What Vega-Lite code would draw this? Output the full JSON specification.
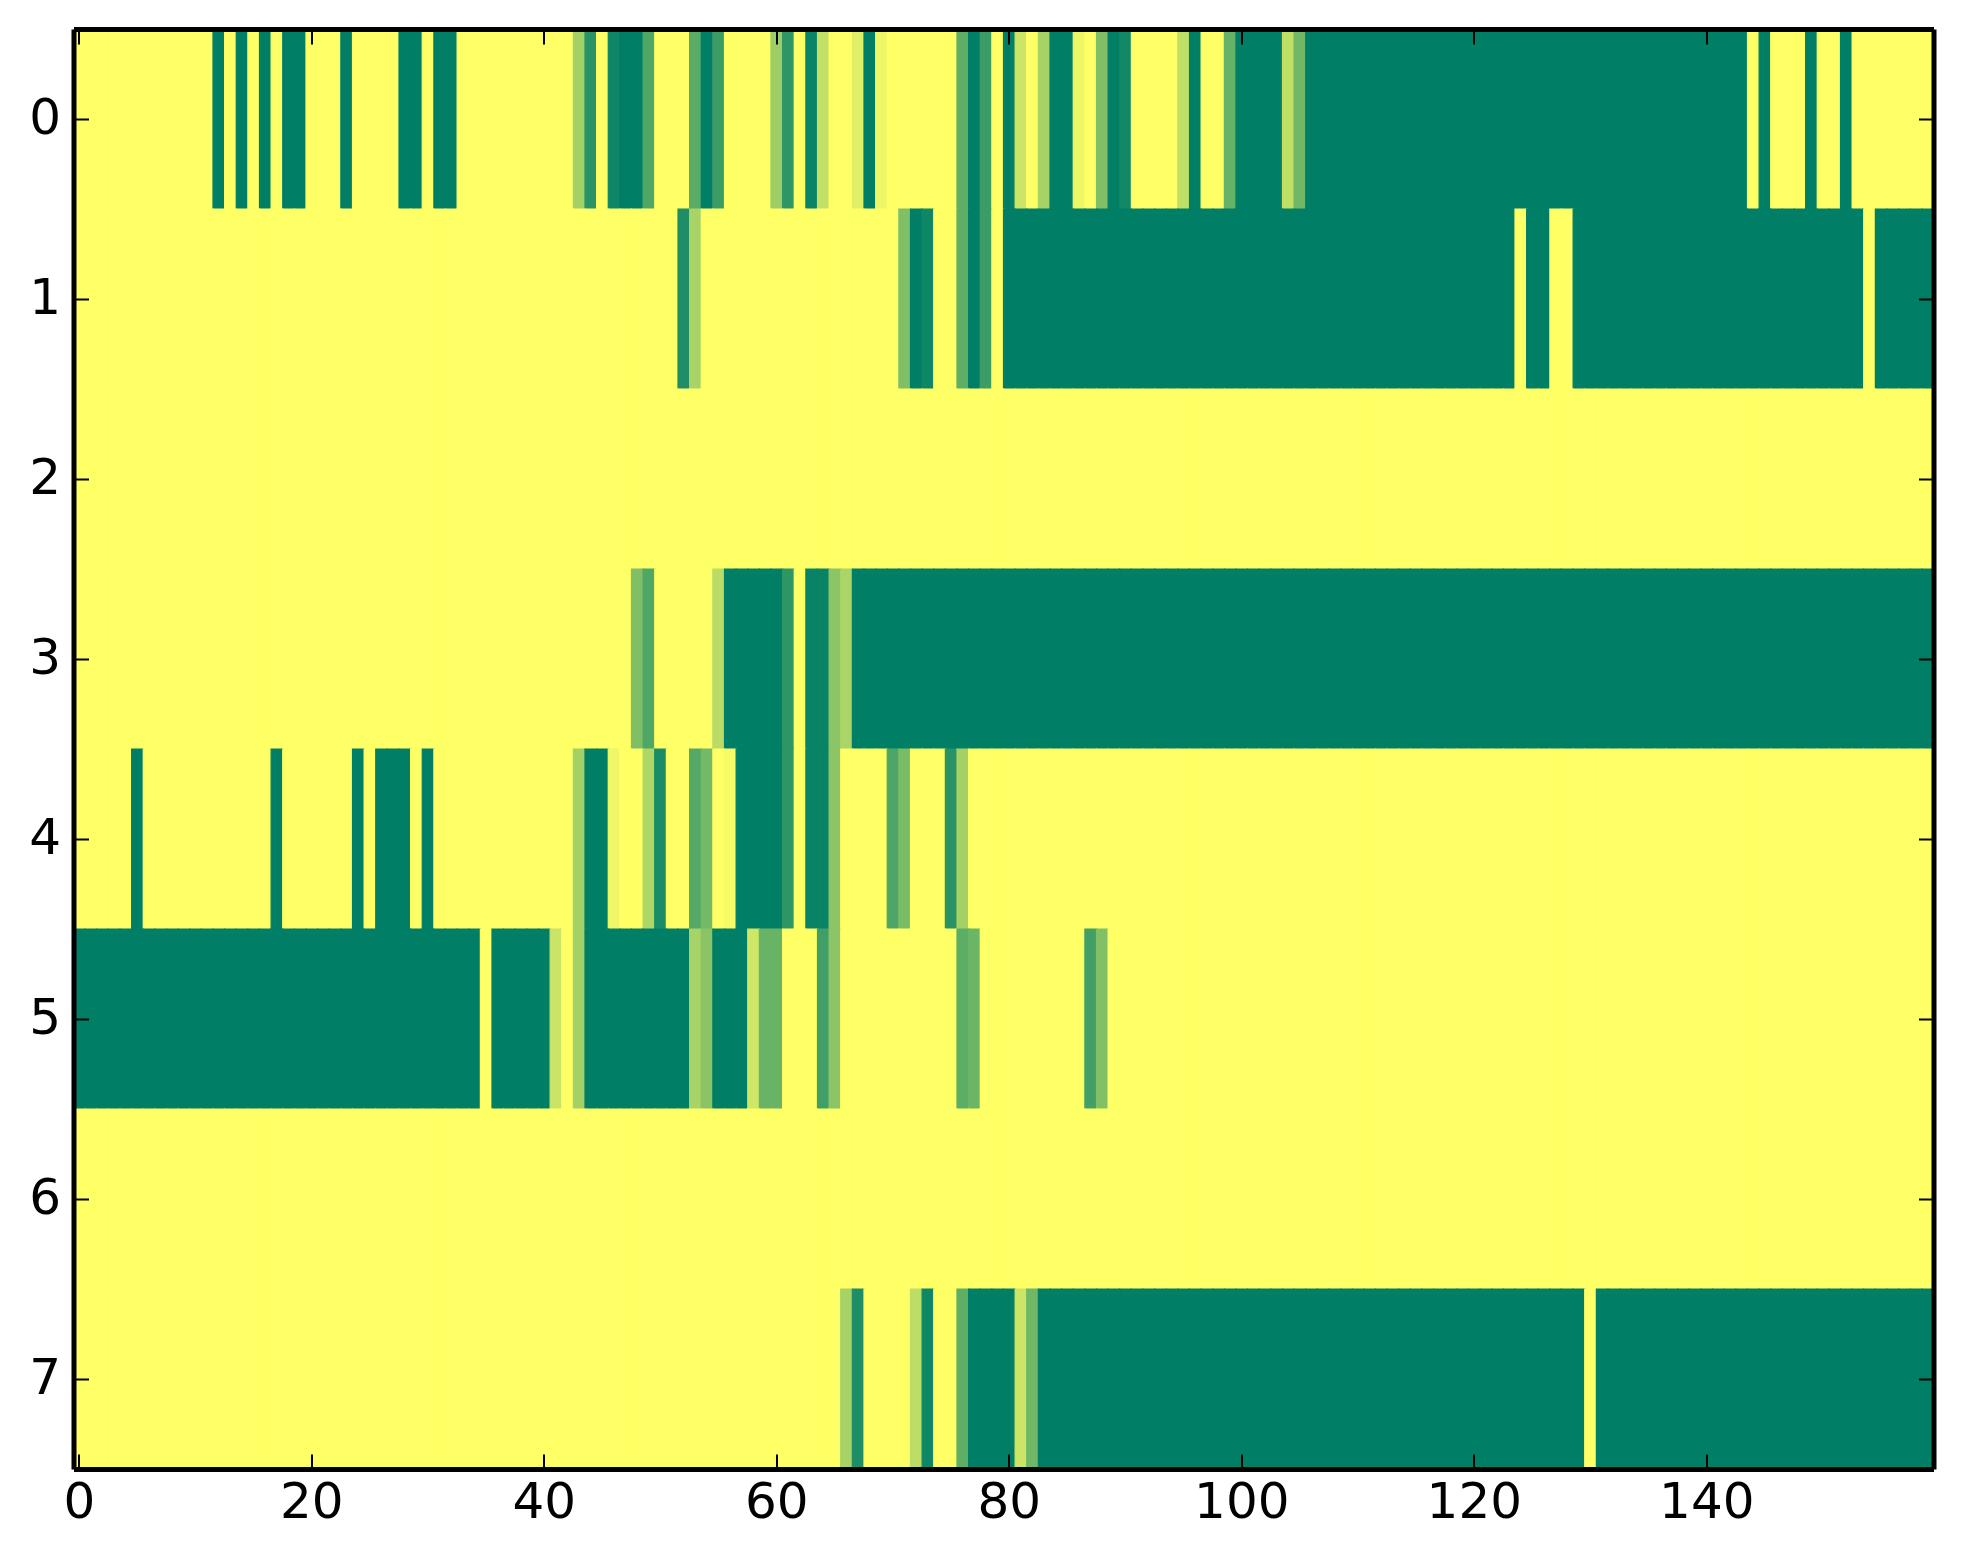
{"$schema":"https://vega.github.io/schema/vega-lite/v6.json","autosize":"none","width":1860,"height":1440,"padding":{"left":73.5,"top":29,"right":29.5,"bottom":95},"background":"white","config":{"view":{"stroke":null},"axis":{"labelFont":"DejaVu Sans","labelFontSize":50,"labelColor":"black","labelAngle":0,"domainColor":"black","tickColor":"black","tickSize":-15,"grid":false,"title":null,"labelOverlap":false}},"data":{"values":[
{"r":0,"c":0,"v":0},{"r":0,"c":1,"v":0},{"r":0,"c":2,"v":0},{"r":0,"c":3,"v":0},{"r":0,"c":4,"v":0},{"r":0,"c":5,"v":0},{"r":0,"c":6,"v":0},{"r":0,"c":7,"v":0},{"r":0,"c":8,"v":0},{"r":0,"c":9,"v":0},{"r":0,"c":10,"v":0},{"r":0,"c":11,"v":0},{"r":0,"c":12,"v":1},{"r":0,"c":13,"v":0},{"r":0,"c":14,"v":1},{"r":0,"c":15,"v":0},{"r":0,"c":16,"v":1},{"r":0,"c":17,"v":0},{"r":0,"c":18,"v":1},{"r":0,"c":19,"v":1},{"r":0,"c":20,"v":0},{"r":0,"c":21,"v":0},{"r":0,"c":22,"v":0},{"r":0,"c":23,"v":1},{"r":0,"c":24,"v":0},{"r":0,"c":25,"v":0},{"r":0,"c":26,"v":0},{"r":0,"c":27,"v":0},{"r":0,"c":28,"v":1},{"r":0,"c":29,"v":1},{"r":0,"c":30,"v":0},{"r":0,"c":31,"v":1},{"r":0,"c":32,"v":1},{"r":0,"c":33,"v":0},{"r":0,"c":34,"v":0},{"r":0,"c":35,"v":0},{"r":0,"c":36,"v":0},{"r":0,"c":37,"v":0},{"r":0,"c":38,"v":0},{"r":0,"c":39,"v":0},
{"r":0,"c":40,"v":0},{"r":0,"c":41,"v":0},{"r":0,"c":42,"v":0},{"r":0,"c":43,"v":0.36},{"r":0,"c":44,"v":0.84},{"r":0,"c":45,"v":0},{"r":0,"c":46,"v":0.95},{"r":0,"c":47,"v":1},{"r":0,"c":48,"v":1},{"r":0,"c":49,"v":0.69},{"r":0,"c":50,"v":0},{"r":0,"c":51,"v":0},{"r":0,"c":52,"v":0},{"r":0,"c":53,"v":0.65},{"r":0,"c":54,"v":1},{"r":0,"c":55,"v":0.77},{"r":0,"c":56,"v":0},{"r":0,"c":57,"v":0},{"r":0,"c":58,"v":0},{"r":0,"c":59,"v":0},{"r":0,"c":60,"v":0.39},{"r":0,"c":61,"v":0.82},{"r":0,"c":62,"v":0},{"r":0,"c":63,"v":0.96},{"r":0,"c":64,"v":0.24},{"r":0,"c":65,"v":0},{"r":0,"c":66,"v":0},{"r":0,"c":67,"v":0.12},{"r":0,"c":68,"v":1},{"r":0,"c":69,"v":0.07},{"r":0,"c":70,"v":0},{"r":0,"c":71,"v":0},{"r":0,"c":72,"v":0},{"r":0,"c":73,"v":0},{"r":0,"c":74,"v":0},{"r":0,"c":75,"v":0},{"r":0,"c":76,"v":0.63},{"r":0,"c":77,"v":1},{"r":0,"c":78,"v":0.77},{"r":0,"c":79,"v":0},
{"r":0,"c":80,"v":1},{"r":0,"c":81,"v":0.2},{"r":0,"c":82,"v":0},{"r":0,"c":83,"v":0.35},{"r":0,"c":84,"v":1},{"r":0,"c":85,"v":1},{"r":0,"c":86,"v":0.07},{"r":0,"c":87,"v":0},{"r":0,"c":88,"v":0.5},{"r":0,"c":89,"v":1},{"r":0,"c":90,"v":0.93},{"r":0,"c":91,"v":0},{"r":0,"c":92,"v":0},{"r":0,"c":93,"v":0},{"r":0,"c":94,"v":0},{"r":0,"c":95,"v":0.25},{"r":0,"c":96,"v":1},{"r":0,"c":97,"v":0},{"r":0,"c":98,"v":0},{"r":0,"c":99,"v":0.6},{"r":0,"c":100,"v":1},{"r":0,"c":101,"v":1},{"r":0,"c":102,"v":1},{"r":0,"c":103,"v":1},{"r":0,"c":104,"v":0.25},{"r":0,"c":105,"v":0.56},{"r":0,"c":106,"v":1},{"r":0,"c":107,"v":1},{"r":0,"c":108,"v":1},{"r":0,"c":109,"v":1},{"r":0,"c":110,"v":1},{"r":0,"c":111,"v":1},{"r":0,"c":112,"v":1},{"r":0,"c":113,"v":1},{"r":0,"c":114,"v":1},{"r":0,"c":115,"v":1},{"r":0,"c":116,"v":1},{"r":0,"c":117,"v":1},{"r":0,"c":118,"v":1},{"r":0,"c":119,"v":1},
{"r":0,"c":120,"v":1},{"r":0,"c":121,"v":1},{"r":0,"c":122,"v":1},{"r":0,"c":123,"v":1},{"r":0,"c":124,"v":1},{"r":0,"c":125,"v":1},{"r":0,"c":126,"v":1},{"r":0,"c":127,"v":1},{"r":0,"c":128,"v":1},{"r":0,"c":129,"v":1},{"r":0,"c":130,"v":1},{"r":0,"c":131,"v":1},{"r":0,"c":132,"v":1},{"r":0,"c":133,"v":1},{"r":0,"c":134,"v":1},{"r":0,"c":135,"v":1},{"r":0,"c":136,"v":1},{"r":0,"c":137,"v":1},{"r":0,"c":138,"v":1},{"r":0,"c":139,"v":1},{"r":0,"c":140,"v":1},{"r":0,"c":141,"v":1},{"r":0,"c":142,"v":1},{"r":0,"c":143,"v":1},{"r":0,"c":144,"v":0},{"r":0,"c":145,"v":1},{"r":0,"c":146,"v":0},{"r":0,"c":147,"v":0},{"r":0,"c":148,"v":0},{"r":0,"c":149,"v":1},{"r":0,"c":150,"v":0},{"r":0,"c":151,"v":0},{"r":0,"c":152,"v":1},{"r":0,"c":153,"v":0},{"r":0,"c":154,"v":0},{"r":0,"c":155,"v":0},{"r":0,"c":156,"v":0},{"r":0,"c":157,"v":0},{"r":0,"c":158,"v":0},{"r":0,"c":159,"v":0},
{"r":1,"c":0,"v":0},{"r":1,"c":1,"v":0},{"r":1,"c":2,"v":0},{"r":1,"c":3,"v":0},{"r":1,"c":4,"v":0},{"r":1,"c":5,"v":0},{"r":1,"c":6,"v":0},{"r":1,"c":7,"v":0},{"r":1,"c":8,"v":0},{"r":1,"c":9,"v":0},{"r":1,"c":10,"v":0},{"r":1,"c":11,"v":0},{"r":1,"c":12,"v":0},{"r":1,"c":13,"v":0},{"r":1,"c":14,"v":0},{"r":1,"c":15,"v":0},{"r":1,"c":16,"v":0},{"r":1,"c":17,"v":0},{"r":1,"c":18,"v":0},{"r":1,"c":19,"v":0},{"r":1,"c":20,"v":0},{"r":1,"c":21,"v":0},{"r":1,"c":22,"v":0},{"r":1,"c":23,"v":0},{"r":1,"c":24,"v":0},{"r":1,"c":25,"v":0},{"r":1,"c":26,"v":0},{"r":1,"c":27,"v":0},{"r":1,"c":28,"v":0},{"r":1,"c":29,"v":0},{"r":1,"c":30,"v":0},{"r":1,"c":31,"v":0},{"r":1,"c":32,"v":0},{"r":1,"c":33,"v":0},{"r":1,"c":34,"v":0},{"r":1,"c":35,"v":0},{"r":1,"c":36,"v":0},{"r":1,"c":37,"v":0},{"r":1,"c":38,"v":0},{"r":1,"c":39,"v":0},
{"r":1,"c":40,"v":0},{"r":1,"c":41,"v":0},{"r":1,"c":42,"v":0},{"r":1,"c":43,"v":0},{"r":1,"c":44,"v":0},{"r":1,"c":45,"v":0},{"r":1,"c":46,"v":0},{"r":1,"c":47,"v":0},{"r":1,"c":48,"v":0},{"r":1,"c":49,"v":0},{"r":1,"c":50,"v":0},{"r":1,"c":51,"v":0},{"r":1,"c":52,"v":0.88},{"r":1,"c":53,"v":0.34},{"r":1,"c":54,"v":0},{"r":1,"c":55,"v":0},{"r":1,"c":56,"v":0},{"r":1,"c":57,"v":0},{"r":1,"c":58,"v":0},{"r":1,"c":59,"v":0},{"r":1,"c":60,"v":0},{"r":1,"c":61,"v":0},{"r":1,"c":62,"v":0},{"r":1,"c":63,"v":0},{"r":1,"c":64,"v":0},{"r":1,"c":65,"v":0},{"r":1,"c":66,"v":0},{"r":1,"c":67,"v":0},{"r":1,"c":68,"v":0},{"r":1,"c":69,"v":0},{"r":1,"c":70,"v":0},{"r":1,"c":71,"v":0.5},{"r":1,"c":72,"v":1},{"r":1,"c":73,"v":0.94},{"r":1,"c":74,"v":0},{"r":1,"c":75,"v":0},{"r":1,"c":76,"v":0.63},{"r":1,"c":77,"v":1},{"r":1,"c":78,"v":0.77},{"r":1,"c":79,"v":0},
{"r":1,"c":80,"v":1},{"r":1,"c":81,"v":1},{"r":1,"c":82,"v":1},{"r":1,"c":83,"v":1},{"r":1,"c":84,"v":1},{"r":1,"c":85,"v":1},{"r":1,"c":86,"v":1},{"r":1,"c":87,"v":1},{"r":1,"c":88,"v":1},{"r":1,"c":89,"v":1},{"r":1,"c":90,"v":1},{"r":1,"c":91,"v":1},{"r":1,"c":92,"v":1},{"r":1,"c":93,"v":1},{"r":1,"c":94,"v":1},{"r":1,"c":95,"v":1},{"r":1,"c":96,"v":1},{"r":1,"c":97,"v":1},{"r":1,"c":98,"v":1},{"r":1,"c":99,"v":1},{"r":1,"c":100,"v":1},{"r":1,"c":101,"v":1},{"r":1,"c":102,"v":1},{"r":1,"c":103,"v":1},{"r":1,"c":104,"v":1},{"r":1,"c":105,"v":1},{"r":1,"c":106,"v":1},{"r":1,"c":107,"v":1},{"r":1,"c":108,"v":1},{"r":1,"c":109,"v":1},{"r":1,"c":110,"v":1},{"r":1,"c":111,"v":1},{"r":1,"c":112,"v":1},{"r":1,"c":113,"v":1},{"r":1,"c":114,"v":1},{"r":1,"c":115,"v":1},{"r":1,"c":116,"v":1},{"r":1,"c":117,"v":1},{"r":1,"c":118,"v":1},{"r":1,"c":119,"v":1},
{"r":1,"c":120,"v":1},{"r":1,"c":121,"v":1},{"r":1,"c":122,"v":1},{"r":1,"c":123,"v":1},{"r":1,"c":124,"v":0},{"r":1,"c":125,"v":1},{"r":1,"c":126,"v":1},{"r":1,"c":127,"v":0},{"r":1,"c":128,"v":0},{"r":1,"c":129,"v":1},{"r":1,"c":130,"v":1},{"r":1,"c":131,"v":1},{"r":1,"c":132,"v":1},{"r":1,"c":133,"v":1},{"r":1,"c":134,"v":1},{"r":1,"c":135,"v":1},{"r":1,"c":136,"v":1},{"r":1,"c":137,"v":1},{"r":1,"c":138,"v":1},{"r":1,"c":139,"v":1},{"r":1,"c":140,"v":1},{"r":1,"c":141,"v":1},{"r":1,"c":142,"v":1},{"r":1,"c":143,"v":1},{"r":1,"c":144,"v":1},{"r":1,"c":145,"v":1},{"r":1,"c":146,"v":1},{"r":1,"c":147,"v":1},{"r":1,"c":148,"v":1},{"r":1,"c":149,"v":1},{"r":1,"c":150,"v":1},{"r":1,"c":151,"v":1},{"r":1,"c":152,"v":1},{"r":1,"c":153,"v":1},{"r":1,"c":154,"v":0},{"r":1,"c":155,"v":1},{"r":1,"c":156,"v":1},{"r":1,"c":157,"v":1},{"r":1,"c":158,"v":1},{"r":1,"c":159,"v":1},
{"r":2,"c":0,"v":0},{"r":2,"c":1,"v":0},{"r":2,"c":2,"v":0},{"r":2,"c":3,"v":0},{"r":2,"c":4,"v":0},{"r":2,"c":5,"v":0},{"r":2,"c":6,"v":0},{"r":2,"c":7,"v":0},{"r":2,"c":8,"v":0},{"r":2,"c":9,"v":0},{"r":2,"c":10,"v":0},{"r":2,"c":11,"v":0},{"r":2,"c":12,"v":0},{"r":2,"c":13,"v":0},{"r":2,"c":14,"v":0},{"r":2,"c":15,"v":0},{"r":2,"c":16,"v":0},{"r":2,"c":17,"v":0},{"r":2,"c":18,"v":0},{"r":2,"c":19,"v":0},{"r":2,"c":20,"v":0},{"r":2,"c":21,"v":0},{"r":2,"c":22,"v":0},{"r":2,"c":23,"v":0},{"r":2,"c":24,"v":0},{"r":2,"c":25,"v":0},{"r":2,"c":26,"v":0},{"r":2,"c":27,"v":0},{"r":2,"c":28,"v":0},{"r":2,"c":29,"v":0},{"r":2,"c":30,"v":0},{"r":2,"c":31,"v":0},{"r":2,"c":32,"v":0},{"r":2,"c":33,"v":0},{"r":2,"c":34,"v":0},{"r":2,"c":35,"v":0},{"r":2,"c":36,"v":0},{"r":2,"c":37,"v":0},{"r":2,"c":38,"v":0},{"r":2,"c":39,"v":0},
{"r":2,"c":40,"v":0},{"r":2,"c":41,"v":0},{"r":2,"c":42,"v":0},{"r":2,"c":43,"v":0},{"r":2,"c":44,"v":0},{"r":2,"c":45,"v":0},{"r":2,"c":46,"v":0},{"r":2,"c":47,"v":0},{"r":2,"c":48,"v":0},{"r":2,"c":49,"v":0},{"r":2,"c":50,"v":0},{"r":2,"c":51,"v":0},{"r":2,"c":52,"v":0},{"r":2,"c":53,"v":0},{"r":2,"c":54,"v":0},{"r":2,"c":55,"v":0},{"r":2,"c":56,"v":0},{"r":2,"c":57,"v":0},{"r":2,"c":58,"v":0},{"r":2,"c":59,"v":0},{"r":2,"c":60,"v":0},{"r":2,"c":61,"v":0},{"r":2,"c":62,"v":0},{"r":2,"c":63,"v":0},{"r":2,"c":64,"v":0},{"r":2,"c":65,"v":0},{"r":2,"c":66,"v":0},{"r":2,"c":67,"v":0},{"r":2,"c":68,"v":0},{"r":2,"c":69,"v":0},{"r":2,"c":70,"v":0},{"r":2,"c":71,"v":0},{"r":2,"c":72,"v":0},{"r":2,"c":73,"v":0},{"r":2,"c":74,"v":0},{"r":2,"c":75,"v":0},{"r":2,"c":76,"v":0},{"r":2,"c":77,"v":0},{"r":2,"c":78,"v":0},{"r":2,"c":79,"v":0},
{"r":2,"c":80,"v":0},{"r":2,"c":81,"v":0},{"r":2,"c":82,"v":0},{"r":2,"c":83,"v":0},{"r":2,"c":84,"v":0},{"r":2,"c":85,"v":0},{"r":2,"c":86,"v":0},{"r":2,"c":87,"v":0},{"r":2,"c":88,"v":0},{"r":2,"c":89,"v":0},{"r":2,"c":90,"v":0},{"r":2,"c":91,"v":0},{"r":2,"c":92,"v":0},{"r":2,"c":93,"v":0},{"r":2,"c":94,"v":0},{"r":2,"c":95,"v":0},{"r":2,"c":96,"v":0},{"r":2,"c":97,"v":0},{"r":2,"c":98,"v":0},{"r":2,"c":99,"v":0},{"r":2,"c":100,"v":0},{"r":2,"c":101,"v":0},{"r":2,"c":102,"v":0},{"r":2,"c":103,"v":0},{"r":2,"c":104,"v":0},{"r":2,"c":105,"v":0},{"r":2,"c":106,"v":0},{"r":2,"c":107,"v":0},{"r":2,"c":108,"v":0},{"r":2,"c":109,"v":0},{"r":2,"c":110,"v":0},{"r":2,"c":111,"v":0},{"r":2,"c":112,"v":0},{"r":2,"c":113,"v":0},{"r":2,"c":114,"v":0},{"r":2,"c":115,"v":0},{"r":2,"c":116,"v":0},{"r":2,"c":117,"v":0},{"r":2,"c":118,"v":0},{"r":2,"c":119,"v":0},
{"r":2,"c":120,"v":0},{"r":2,"c":121,"v":0},{"r":2,"c":122,"v":0},{"r":2,"c":123,"v":0},{"r":2,"c":124,"v":0},{"r":2,"c":125,"v":0},{"r":2,"c":126,"v":0},{"r":2,"c":127,"v":0},{"r":2,"c":128,"v":0},{"r":2,"c":129,"v":0},{"r":2,"c":130,"v":0},{"r":2,"c":131,"v":0},{"r":2,"c":132,"v":0},{"r":2,"c":133,"v":0},{"r":2,"c":134,"v":0},{"r":2,"c":135,"v":0},{"r":2,"c":136,"v":0},{"r":2,"c":137,"v":0},{"r":2,"c":138,"v":0},{"r":2,"c":139,"v":0},{"r":2,"c":140,"v":0},{"r":2,"c":141,"v":0},{"r":2,"c":142,"v":0},{"r":2,"c":143,"v":0},{"r":2,"c":144,"v":0},{"r":2,"c":145,"v":0},{"r":2,"c":146,"v":0},{"r":2,"c":147,"v":0},{"r":2,"c":148,"v":0},{"r":2,"c":149,"v":0},{"r":2,"c":150,"v":0},{"r":2,"c":151,"v":0},{"r":2,"c":152,"v":0},{"r":2,"c":153,"v":0},{"r":2,"c":154,"v":0},{"r":2,"c":155,"v":0},{"r":2,"c":156,"v":0},{"r":2,"c":157,"v":0},{"r":2,"c":158,"v":0},{"r":2,"c":159,"v":0},
{"r":3,"c":0,"v":0},{"r":3,"c":1,"v":0},{"r":3,"c":2,"v":0},{"r":3,"c":3,"v":0},{"r":3,"c":4,"v":0},{"r":3,"c":5,"v":0},{"r":3,"c":6,"v":0},{"r":3,"c":7,"v":0},{"r":3,"c":8,"v":0},{"r":3,"c":9,"v":0},{"r":3,"c":10,"v":0},{"r":3,"c":11,"v":0},{"r":3,"c":12,"v":0},{"r":3,"c":13,"v":0},{"r":3,"c":14,"v":0},{"r":3,"c":15,"v":0},{"r":3,"c":16,"v":0},{"r":3,"c":17,"v":0},{"r":3,"c":18,"v":0},{"r":3,"c":19,"v":0},{"r":3,"c":20,"v":0},{"r":3,"c":21,"v":0},{"r":3,"c":22,"v":0},{"r":3,"c":23,"v":0},{"r":3,"c":24,"v":0},{"r":3,"c":25,"v":0},{"r":3,"c":26,"v":0},{"r":3,"c":27,"v":0},{"r":3,"c":28,"v":0},{"r":3,"c":29,"v":0},{"r":3,"c":30,"v":0},{"r":3,"c":31,"v":0},{"r":3,"c":32,"v":0},{"r":3,"c":33,"v":0},{"r":3,"c":34,"v":0},{"r":3,"c":35,"v":0},{"r":3,"c":36,"v":0},{"r":3,"c":37,"v":0},{"r":3,"c":38,"v":0},{"r":3,"c":39,"v":0},
{"r":3,"c":40,"v":0},{"r":3,"c":41,"v":0},{"r":3,"c":42,"v":0},{"r":3,"c":43,"v":0},{"r":3,"c":44,"v":0},{"r":3,"c":45,"v":0},{"r":3,"c":46,"v":0},{"r":3,"c":47,"v":0},{"r":3,"c":48,"v":0.5},{"r":3,"c":49,"v":0.69},{"r":3,"c":50,"v":0},{"r":3,"c":51,"v":0},{"r":3,"c":52,"v":0},{"r":3,"c":53,"v":0},{"r":3,"c":54,"v":0},{"r":3,"c":55,"v":0.27},{"r":3,"c":56,"v":1},{"r":3,"c":57,"v":1},{"r":3,"c":58,"v":1},{"r":3,"c":59,"v":1},{"r":3,"c":60,"v":1},{"r":3,"c":61,"v":0.82},{"r":3,"c":62,"v":0},{"r":3,"c":63,"v":0.97},{"r":3,"c":64,"v":0.97},{"r":3,"c":65,"v":0.45},{"r":3,"c":66,"v":0.33},{"r":3,"c":67,"v":1},{"r":3,"c":68,"v":1},{"r":3,"c":69,"v":1},{"r":3,"c":70,"v":1},{"r":3,"c":71,"v":1},{"r":3,"c":72,"v":1},{"r":3,"c":73,"v":1},{"r":3,"c":74,"v":1},{"r":3,"c":75,"v":1},{"r":3,"c":76,"v":1},{"r":3,"c":77,"v":1},{"r":3,"c":78,"v":1},{"r":3,"c":79,"v":1},
{"r":3,"c":80,"v":1},{"r":3,"c":81,"v":1},{"r":3,"c":82,"v":1},{"r":3,"c":83,"v":1},{"r":3,"c":84,"v":1},{"r":3,"c":85,"v":1},{"r":3,"c":86,"v":1},{"r":3,"c":87,"v":1},{"r":3,"c":88,"v":1},{"r":3,"c":89,"v":1},{"r":3,"c":90,"v":1},{"r":3,"c":91,"v":1},{"r":3,"c":92,"v":1},{"r":3,"c":93,"v":1},{"r":3,"c":94,"v":1},{"r":3,"c":95,"v":1},{"r":3,"c":96,"v":1},{"r":3,"c":97,"v":1},{"r":3,"c":98,"v":1},{"r":3,"c":99,"v":1},{"r":3,"c":100,"v":1},{"r":3,"c":101,"v":1},{"r":3,"c":102,"v":1},{"r":3,"c":103,"v":1},{"r":3,"c":104,"v":1},{"r":3,"c":105,"v":1},{"r":3,"c":106,"v":1},{"r":3,"c":107,"v":1},{"r":3,"c":108,"v":1},{"r":3,"c":109,"v":1},{"r":3,"c":110,"v":1},{"r":3,"c":111,"v":1},{"r":3,"c":112,"v":1},{"r":3,"c":113,"v":1},{"r":3,"c":114,"v":1},{"r":3,"c":115,"v":1},{"r":3,"c":116,"v":1},{"r":3,"c":117,"v":1},{"r":3,"c":118,"v":1},{"r":3,"c":119,"v":1},
{"r":3,"c":120,"v":1},{"r":3,"c":121,"v":1},{"r":3,"c":122,"v":1},{"r":3,"c":123,"v":1},{"r":3,"c":124,"v":1},{"r":3,"c":125,"v":1},{"r":3,"c":126,"v":1},{"r":3,"c":127,"v":1},{"r":3,"c":128,"v":1},{"r":3,"c":129,"v":1},{"r":3,"c":130,"v":1},{"r":3,"c":131,"v":1},{"r":3,"c":132,"v":1},{"r":3,"c":133,"v":1},{"r":3,"c":134,"v":1},{"r":3,"c":135,"v":1},{"r":3,"c":136,"v":1},{"r":3,"c":137,"v":1},{"r":3,"c":138,"v":1},{"r":3,"c":139,"v":1},{"r":3,"c":140,"v":1},{"r":3,"c":141,"v":1},{"r":3,"c":142,"v":1},{"r":3,"c":143,"v":1},{"r":3,"c":144,"v":1},{"r":3,"c":145,"v":1},{"r":3,"c":146,"v":1},{"r":3,"c":147,"v":1},{"r":3,"c":148,"v":1},{"r":3,"c":149,"v":1},{"r":3,"c":150,"v":1},{"r":3,"c":151,"v":1},{"r":3,"c":152,"v":1},{"r":3,"c":153,"v":1},{"r":3,"c":154,"v":1},{"r":3,"c":155,"v":1},{"r":3,"c":156,"v":1},{"r":3,"c":157,"v":1},{"r":3,"c":158,"v":1},{"r":3,"c":159,"v":1},
{"r":4,"c":0,"v":0},{"r":4,"c":1,"v":0},{"r":4,"c":2,"v":0},{"r":4,"c":3,"v":0},{"r":4,"c":4,"v":0},{"r":4,"c":5,"v":1},{"r":4,"c":6,"v":0},{"r":4,"c":7,"v":0},{"r":4,"c":8,"v":0},{"r":4,"c":9,"v":0},{"r":4,"c":10,"v":0},{"r":4,"c":11,"v":0},{"r":4,"c":12,"v":0},{"r":4,"c":13,"v":0},{"r":4,"c":14,"v":0},{"r":4,"c":15,"v":0},{"r":4,"c":16,"v":0},{"r":4,"c":17,"v":1},{"r":4,"c":18,"v":0},{"r":4,"c":19,"v":0},{"r":4,"c":20,"v":0},{"r":4,"c":21,"v":0},{"r":4,"c":22,"v":0},{"r":4,"c":23,"v":0},{"r":4,"c":24,"v":1},{"r":4,"c":25,"v":0},{"r":4,"c":26,"v":1},{"r":4,"c":27,"v":1},{"r":4,"c":28,"v":1},{"r":4,"c":29,"v":0},{"r":4,"c":30,"v":1},{"r":4,"c":31,"v":0},{"r":4,"c":32,"v":0},{"r":4,"c":33,"v":0},{"r":4,"c":34,"v":0},{"r":4,"c":35,"v":0},{"r":4,"c":36,"v":0},{"r":4,"c":37,"v":0},{"r":4,"c":38,"v":0},{"r":4,"c":39,"v":0},
{"r":4,"c":40,"v":0},{"r":4,"c":41,"v":0},{"r":4,"c":42,"v":0},{"r":4,"c":43,"v":0.36},{"r":4,"c":44,"v":1},{"r":4,"c":45,"v":1},{"r":4,"c":46,"v":0.06},{"r":4,"c":47,"v":0},{"r":4,"c":48,"v":0},{"r":4,"c":49,"v":0.31},{"r":4,"c":50,"v":0.9},{"r":4,"c":51,"v":0},{"r":4,"c":52,"v":0},{"r":4,"c":53,"v":0.67},{"r":4,"c":54,"v":0.55},{"r":4,"c":55,"v":0},{"r":4,"c":56,"v":0.03},{"r":4,"c":57,"v":1},{"r":4,"c":58,"v":1},{"r":4,"c":59,"v":1},{"r":4,"c":60,"v":1},{"r":4,"c":61,"v":0.82},{"r":4,"c":62,"v":0},{"r":4,"c":63,"v":0.97},{"r":4,"c":64,"v":0.97},{"r":4,"c":65,"v":0.45},{"r":4,"c":66,"v":0},{"r":4,"c":67,"v":0},{"r":4,"c":68,"v":0},{"r":4,"c":69,"v":0},{"r":4,"c":70,"v":0.7},{"r":4,"c":71,"v":0.52},{"r":4,"c":72,"v":0},{"r":4,"c":73,"v":0},{"r":4,"c":74,"v":0},{"r":4,"c":75,"v":0.84},{"r":4,"c":76,"v":0.36},{"r":4,"c":77,"v":0},{"r":4,"c":78,"v":0},{"r":4,"c":79,"v":0},
{"r":4,"c":80,"v":0},{"r":4,"c":81,"v":0},{"r":4,"c":82,"v":0},{"r":4,"c":83,"v":0},{"r":4,"c":84,"v":0},{"r":4,"c":85,"v":0},{"r":4,"c":86,"v":0},{"r":4,"c":87,"v":0},{"r":4,"c":88,"v":0},{"r":4,"c":89,"v":0},{"r":4,"c":90,"v":0},{"r":4,"c":91,"v":0},{"r":4,"c":92,"v":0},{"r":4,"c":93,"v":0},{"r":4,"c":94,"v":0},{"r":4,"c":95,"v":0},{"r":4,"c":96,"v":0},{"r":4,"c":97,"v":0},{"r":4,"c":98,"v":0},{"r":4,"c":99,"v":0},{"r":4,"c":100,"v":0},{"r":4,"c":101,"v":0},{"r":4,"c":102,"v":0},{"r":4,"c":103,"v":0},{"r":4,"c":104,"v":0},{"r":4,"c":105,"v":0},{"r":4,"c":106,"v":0},{"r":4,"c":107,"v":0},{"r":4,"c":108,"v":0},{"r":4,"c":109,"v":0},{"r":4,"c":110,"v":0},{"r":4,"c":111,"v":0},{"r":4,"c":112,"v":0},{"r":4,"c":113,"v":0},{"r":4,"c":114,"v":0},{"r":4,"c":115,"v":0},{"r":4,"c":116,"v":0},{"r":4,"c":117,"v":0},{"r":4,"c":118,"v":0},{"r":4,"c":119,"v":0},
{"r":4,"c":120,"v":0},{"r":4,"c":121,"v":0},{"r":4,"c":122,"v":0},{"r":4,"c":123,"v":0},{"r":4,"c":124,"v":0},{"r":4,"c":125,"v":0},{"r":4,"c":126,"v":0},{"r":4,"c":127,"v":0},{"r":4,"c":128,"v":0},{"r":4,"c":129,"v":0},{"r":4,"c":130,"v":0},{"r":4,"c":131,"v":0},{"r":4,"c":132,"v":0},{"r":4,"c":133,"v":0},{"r":4,"c":134,"v":0},{"r":4,"c":135,"v":0},{"r":4,"c":136,"v":0},{"r":4,"c":137,"v":0},{"r":4,"c":138,"v":0},{"r":4,"c":139,"v":0},{"r":4,"c":140,"v":0},{"r":4,"c":141,"v":0},{"r":4,"c":142,"v":0},{"r":4,"c":143,"v":0},{"r":4,"c":144,"v":0},{"r":4,"c":145,"v":0},{"r":4,"c":146,"v":0},{"r":4,"c":147,"v":0},{"r":4,"c":148,"v":0},{"r":4,"c":149,"v":0},{"r":4,"c":150,"v":0},{"r":4,"c":151,"v":0},{"r":4,"c":152,"v":0},{"r":4,"c":153,"v":0},{"r":4,"c":154,"v":0},{"r":4,"c":155,"v":0},{"r":4,"c":156,"v":0},{"r":4,"c":157,"v":0},{"r":4,"c":158,"v":0},{"r":4,"c":159,"v":0},
{"r":5,"c":0,"v":1},{"r":5,"c":1,"v":1},{"r":5,"c":2,"v":1},{"r":5,"c":3,"v":1},{"r":5,"c":4,"v":1},{"r":5,"c":5,"v":1},{"r":5,"c":6,"v":1},{"r":5,"c":7,"v":1},{"r":5,"c":8,"v":1},{"r":5,"c":9,"v":1},{"r":5,"c":10,"v":1},{"r":5,"c":11,"v":1},{"r":5,"c":12,"v":1},{"r":5,"c":13,"v":1},{"r":5,"c":14,"v":1},{"r":5,"c":15,"v":1},{"r":5,"c":16,"v":1},{"r":5,"c":17,"v":1},{"r":5,"c":18,"v":1},{"r":5,"c":19,"v":1},{"r":5,"c":20,"v":1},{"r":5,"c":21,"v":1},{"r":5,"c":22,"v":1},{"r":5,"c":23,"v":1},{"r":5,"c":24,"v":1},{"r":5,"c":25,"v":1},{"r":5,"c":26,"v":1},{"r":5,"c":27,"v":1},{"r":5,"c":28,"v":1},{"r":5,"c":29,"v":1},{"r":5,"c":30,"v":1},{"r":5,"c":31,"v":1},{"r":5,"c":32,"v":1},{"r":5,"c":33,"v":1},{"r":5,"c":34,"v":1},{"r":5,"c":35,"v":0},{"r":5,"c":36,"v":1},{"r":5,"c":37,"v":1},{"r":5,"c":38,"v":1},{"r":5,"c":39,"v":1},
{"r":5,"c":40,"v":1},{"r":5,"c":41,"v":0.21},{"r":5,"c":42,"v":0},{"r":5,"c":43,"v":0.36},{"r":5,"c":44,"v":1},{"r":5,"c":45,"v":1},{"r":5,"c":46,"v":1},{"r":5,"c":47,"v":1},{"r":5,"c":48,"v":1},{"r":5,"c":49,"v":1},{"r":5,"c":50,"v":1},{"r":5,"c":51,"v":1},{"r":5,"c":52,"v":1},{"r":5,"c":53,"v":0.34},{"r":5,"c":54,"v":0.46},{"r":5,"c":55,"v":1},{"r":5,"c":56,"v":1},{"r":5,"c":57,"v":1},{"r":5,"c":58,"v":0.19},{"r":5,"c":59,"v":0.59},{"r":5,"c":60,"v":0.59},{"r":5,"c":61,"v":0},{"r":5,"c":62,"v":0},{"r":5,"c":63,"v":0},{"r":5,"c":64,"v":0.75},{"r":5,"c":65,"v":0.45},{"r":5,"c":66,"v":0},{"r":5,"c":67,"v":0},{"r":5,"c":68,"v":0},{"r":5,"c":69,"v":0},{"r":5,"c":70,"v":0},{"r":5,"c":71,"v":0},{"r":5,"c":72,"v":0},{"r":5,"c":73,"v":0},{"r":5,"c":74,"v":0},{"r":5,"c":75,"v":0},{"r":5,"c":76,"v":0.64},{"r":5,"c":77,"v":0.58},{"r":5,"c":78,"v":0},{"r":5,"c":79,"v":0},
{"r":5,"c":80,"v":0},{"r":5,"c":81,"v":0},{"r":5,"c":82,"v":0},{"r":5,"c":83,"v":0},{"r":5,"c":84,"v":0},{"r":5,"c":85,"v":0},{"r":5,"c":86,"v":0},{"r":5,"c":87,"v":0.74},{"r":5,"c":88,"v":0.49},{"r":5,"c":89,"v":0},{"r":5,"c":90,"v":0},{"r":5,"c":91,"v":0},{"r":5,"c":92,"v":0},{"r":5,"c":93,"v":0},{"r":5,"c":94,"v":0},{"r":5,"c":95,"v":0},{"r":5,"c":96,"v":0},{"r":5,"c":97,"v":0},{"r":5,"c":98,"v":0},{"r":5,"c":99,"v":0},{"r":5,"c":100,"v":0},{"r":5,"c":101,"v":0},{"r":5,"c":102,"v":0},{"r":5,"c":103,"v":0},{"r":5,"c":104,"v":0},{"r":5,"c":105,"v":0},{"r":5,"c":106,"v":0},{"r":5,"c":107,"v":0},{"r":5,"c":108,"v":0},{"r":5,"c":109,"v":0},{"r":5,"c":110,"v":0},{"r":5,"c":111,"v":0},{"r":5,"c":112,"v":0},{"r":5,"c":113,"v":0},{"r":5,"c":114,"v":0},{"r":5,"c":115,"v":0},{"r":5,"c":116,"v":0},{"r":5,"c":117,"v":0},{"r":5,"c":118,"v":0},{"r":5,"c":119,"v":0},
{"r":5,"c":120,"v":0},{"r":5,"c":121,"v":0},{"r":5,"c":122,"v":0},{"r":5,"c":123,"v":0},{"r":5,"c":124,"v":0},{"r":5,"c":125,"v":0},{"r":5,"c":126,"v":0},{"r":5,"c":127,"v":0},{"r":5,"c":128,"v":0},{"r":5,"c":129,"v":0},{"r":5,"c":130,"v":0},{"r":5,"c":131,"v":0},{"r":5,"c":132,"v":0},{"r":5,"c":133,"v":0},{"r":5,"c":134,"v":0},{"r":5,"c":135,"v":0},{"r":5,"c":136,"v":0},{"r":5,"c":137,"v":0},{"r":5,"c":138,"v":0},{"r":5,"c":139,"v":0},{"r":5,"c":140,"v":0},{"r":5,"c":141,"v":0},{"r":5,"c":142,"v":0},{"r":5,"c":143,"v":0},{"r":5,"c":144,"v":0},{"r":5,"c":145,"v":0},{"r":5,"c":146,"v":0},{"r":5,"c":147,"v":0},{"r":5,"c":148,"v":0},{"r":5,"c":149,"v":0},{"r":5,"c":150,"v":0},{"r":5,"c":151,"v":0},{"r":5,"c":152,"v":0},{"r":5,"c":153,"v":0},{"r":5,"c":154,"v":0},{"r":5,"c":155,"v":0},{"r":5,"c":156,"v":0},{"r":5,"c":157,"v":0},{"r":5,"c":158,"v":0},{"r":5,"c":159,"v":0},
{"r":6,"c":0,"v":0},{"r":6,"c":1,"v":0},{"r":6,"c":2,"v":0},{"r":6,"c":3,"v":0},{"r":6,"c":4,"v":0},{"r":6,"c":5,"v":0},{"r":6,"c":6,"v":0},{"r":6,"c":7,"v":0},{"r":6,"c":8,"v":0},{"r":6,"c":9,"v":0},{"r":6,"c":10,"v":0},{"r":6,"c":11,"v":0},{"r":6,"c":12,"v":0},{"r":6,"c":13,"v":0},{"r":6,"c":14,"v":0},{"r":6,"c":15,"v":0},{"r":6,"c":16,"v":0},{"r":6,"c":17,"v":0},{"r":6,"c":18,"v":0},{"r":6,"c":19,"v":0},{"r":6,"c":20,"v":0},{"r":6,"c":21,"v":0},{"r":6,"c":22,"v":0},{"r":6,"c":23,"v":0},{"r":6,"c":24,"v":0},{"r":6,"c":25,"v":0},{"r":6,"c":26,"v":0},{"r":6,"c":27,"v":0},{"r":6,"c":28,"v":0},{"r":6,"c":29,"v":0},{"r":6,"c":30,"v":0},{"r":6,"c":31,"v":0},{"r":6,"c":32,"v":0},{"r":6,"c":33,"v":0},{"r":6,"c":34,"v":0},{"r":6,"c":35,"v":0},{"r":6,"c":36,"v":0},{"r":6,"c":37,"v":0},{"r":6,"c":38,"v":0},{"r":6,"c":39,"v":0},
{"r":6,"c":40,"v":0},{"r":6,"c":41,"v":0},{"r":6,"c":42,"v":0},{"r":6,"c":43,"v":0},{"r":6,"c":44,"v":0},{"r":6,"c":45,"v":0},{"r":6,"c":46,"v":0},{"r":6,"c":47,"v":0},{"r":6,"c":48,"v":0},{"r":6,"c":49,"v":0},{"r":6,"c":50,"v":0},{"r":6,"c":51,"v":0},{"r":6,"c":52,"v":0},{"r":6,"c":53,"v":0},{"r":6,"c":54,"v":0},{"r":6,"c":55,"v":0},{"r":6,"c":56,"v":0},{"r":6,"c":57,"v":0},{"r":6,"c":58,"v":0},{"r":6,"c":59,"v":0},{"r":6,"c":60,"v":0},{"r":6,"c":61,"v":0},{"r":6,"c":62,"v":0},{"r":6,"c":63,"v":0},{"r":6,"c":64,"v":0},{"r":6,"c":65,"v":0},{"r":6,"c":66,"v":0},{"r":6,"c":67,"v":0},{"r":6,"c":68,"v":0},{"r":6,"c":69,"v":0},{"r":6,"c":70,"v":0},{"r":6,"c":71,"v":0},{"r":6,"c":72,"v":0},{"r":6,"c":73,"v":0},{"r":6,"c":74,"v":0},{"r":6,"c":75,"v":0},{"r":6,"c":76,"v":0},{"r":6,"c":77,"v":0},{"r":6,"c":78,"v":0},{"r":6,"c":79,"v":0},
{"r":6,"c":80,"v":0},{"r":6,"c":81,"v":0},{"r":6,"c":82,"v":0},{"r":6,"c":83,"v":0},{"r":6,"c":84,"v":0},{"r":6,"c":85,"v":0},{"r":6,"c":86,"v":0},{"r":6,"c":87,"v":0},{"r":6,"c":88,"v":0},{"r":6,"c":89,"v":0},{"r":6,"c":90,"v":0},{"r":6,"c":91,"v":0},{"r":6,"c":92,"v":0},{"r":6,"c":93,"v":0},{"r":6,"c":94,"v":0},{"r":6,"c":95,"v":0},{"r":6,"c":96,"v":0},{"r":6,"c":97,"v":0},{"r":6,"c":98,"v":0},{"r":6,"c":99,"v":0},{"r":6,"c":100,"v":0},{"r":6,"c":101,"v":0},{"r":6,"c":102,"v":0},{"r":6,"c":103,"v":0},{"r":6,"c":104,"v":0},{"r":6,"c":105,"v":0},{"r":6,"c":106,"v":0},{"r":6,"c":107,"v":0},{"r":6,"c":108,"v":0},{"r":6,"c":109,"v":0},{"r":6,"c":110,"v":0},{"r":6,"c":111,"v":0},{"r":6,"c":112,"v":0},{"r":6,"c":113,"v":0},{"r":6,"c":114,"v":0},{"r":6,"c":115,"v":0},{"r":6,"c":116,"v":0},{"r":6,"c":117,"v":0},{"r":6,"c":118,"v":0},{"r":6,"c":119,"v":0},
{"r":6,"c":120,"v":0},{"r":6,"c":121,"v":0},{"r":6,"c":122,"v":0},{"r":6,"c":123,"v":0},{"r":6,"c":124,"v":0},{"r":6,"c":125,"v":0},{"r":6,"c":126,"v":0},{"r":6,"c":127,"v":0},{"r":6,"c":128,"v":0},{"r":6,"c":129,"v":0},{"r":6,"c":130,"v":0},{"r":6,"c":131,"v":0},{"r":6,"c":132,"v":0},{"r":6,"c":133,"v":0},{"r":6,"c":134,"v":0},{"r":6,"c":135,"v":0},{"r":6,"c":136,"v":0},{"r":6,"c":137,"v":0},{"r":6,"c":138,"v":0},{"r":6,"c":139,"v":0},{"r":6,"c":140,"v":0},{"r":6,"c":141,"v":0},{"r":6,"c":142,"v":0},{"r":6,"c":143,"v":0},{"r":6,"c":144,"v":0},{"r":6,"c":145,"v":0},{"r":6,"c":146,"v":0},{"r":6,"c":147,"v":0},{"r":6,"c":148,"v":0},{"r":6,"c":149,"v":0},{"r":6,"c":150,"v":0},{"r":6,"c":151,"v":0},{"r":6,"c":152,"v":0},{"r":6,"c":153,"v":0},{"r":6,"c":154,"v":0},{"r":6,"c":155,"v":0},{"r":6,"c":156,"v":0},{"r":6,"c":157,"v":0},{"r":6,"c":158,"v":0},{"r":6,"c":159,"v":0},
{"r":7,"c":0,"v":0},{"r":7,"c":1,"v":0},{"r":7,"c":2,"v":0},{"r":7,"c":3,"v":0},{"r":7,"c":4,"v":0},{"r":7,"c":5,"v":0},{"r":7,"c":6,"v":0},{"r":7,"c":7,"v":0},{"r":7,"c":8,"v":0},{"r":7,"c":9,"v":0},{"r":7,"c":10,"v":0},{"r":7,"c":11,"v":0},{"r":7,"c":12,"v":0},{"r":7,"c":13,"v":0},{"r":7,"c":14,"v":0},{"r":7,"c":15,"v":0},{"r":7,"c":16,"v":0},{"r":7,"c":17,"v":0},{"r":7,"c":18,"v":0},{"r":7,"c":19,"v":0},{"r":7,"c":20,"v":0},{"r":7,"c":21,"v":0},{"r":7,"c":22,"v":0},{"r":7,"c":23,"v":0},{"r":7,"c":24,"v":0},{"r":7,"c":25,"v":0},{"r":7,"c":26,"v":0},{"r":7,"c":27,"v":0},{"r":7,"c":28,"v":0},{"r":7,"c":29,"v":0},{"r":7,"c":30,"v":0},{"r":7,"c":31,"v":0},{"r":7,"c":32,"v":0},{"r":7,"c":33,"v":0},{"r":7,"c":34,"v":0},{"r":7,"c":35,"v":0},{"r":7,"c":36,"v":0},{"r":7,"c":37,"v":0},{"r":7,"c":38,"v":0},{"r":7,"c":39,"v":0},
{"r":7,"c":40,"v":0},{"r":7,"c":41,"v":0},{"r":7,"c":42,"v":0},{"r":7,"c":43,"v":0},{"r":7,"c":44,"v":0},{"r":7,"c":45,"v":0},{"r":7,"c":46,"v":0},{"r":7,"c":47,"v":0},{"r":7,"c":48,"v":0},{"r":7,"c":49,"v":0},{"r":7,"c":50,"v":0},{"r":7,"c":51,"v":0},{"r":7,"c":52,"v":0},{"r":7,"c":53,"v":0},{"r":7,"c":54,"v":0},{"r":7,"c":55,"v":0},{"r":7,"c":56,"v":0},{"r":7,"c":57,"v":0},{"r":7,"c":58,"v":0},{"r":7,"c":59,"v":0},{"r":7,"c":60,"v":0},{"r":7,"c":61,"v":0},{"r":7,"c":62,"v":0},{"r":7,"c":63,"v":0},{"r":7,"c":64,"v":0},{"r":7,"c":65,"v":0},{"r":7,"c":66,"v":0.35},{"r":7,"c":67,"v":0.88},{"r":7,"c":68,"v":0},{"r":7,"c":69,"v":0},{"r":7,"c":70,"v":0},{"r":7,"c":71,"v":0},{"r":7,"c":72,"v":0.26},{"r":7,"c":73,"v":0.94},{"r":7,"c":74,"v":0},{"r":7,"c":75,"v":0},{"r":7,"c":76,"v":0.63},{"r":7,"c":77,"v":1},{"r":7,"c":78,"v":1},{"r":7,"c":79,"v":1},
{"r":7,"c":80,"v":1},{"r":7,"c":81,"v":0.2},{"r":7,"c":82,"v":0.56},{"r":7,"c":83,"v":1},{"r":7,"c":84,"v":1},{"r":7,"c":85,"v":1},{"r":7,"c":86,"v":1},{"r":7,"c":87,"v":1},{"r":7,"c":88,"v":1},{"r":7,"c":89,"v":1},{"r":7,"c":90,"v":1},{"r":7,"c":91,"v":1},{"r":7,"c":92,"v":1},{"r":7,"c":93,"v":1},{"r":7,"c":94,"v":1},{"r":7,"c":95,"v":1},{"r":7,"c":96,"v":1},{"r":7,"c":97,"v":1},{"r":7,"c":98,"v":1},{"r":7,"c":99,"v":1},{"r":7,"c":100,"v":1},{"r":7,"c":101,"v":1},{"r":7,"c":102,"v":1},{"r":7,"c":103,"v":1},{"r":7,"c":104,"v":1},{"r":7,"c":105,"v":1},{"r":7,"c":106,"v":1},{"r":7,"c":107,"v":1},{"r":7,"c":108,"v":1},{"r":7,"c":109,"v":1},{"r":7,"c":110,"v":1},{"r":7,"c":111,"v":1},{"r":7,"c":112,"v":1},{"r":7,"c":113,"v":1},{"r":7,"c":114,"v":1},{"r":7,"c":115,"v":1},{"r":7,"c":116,"v":1},{"r":7,"c":117,"v":1},{"r":7,"c":118,"v":1},{"r":7,"c":119,"v":1},
{"r":7,"c":120,"v":1},{"r":7,"c":121,"v":1},{"r":7,"c":122,"v":1},{"r":7,"c":123,"v":1},{"r":7,"c":124,"v":1},{"r":7,"c":125,"v":1},{"r":7,"c":126,"v":1},{"r":7,"c":127,"v":1},{"r":7,"c":128,"v":1},{"r":7,"c":129,"v":1},{"r":7,"c":130,"v":0},{"r":7,"c":131,"v":1},{"r":7,"c":132,"v":1},{"r":7,"c":133,"v":1},{"r":7,"c":134,"v":1},{"r":7,"c":135,"v":1},{"r":7,"c":136,"v":1},{"r":7,"c":137,"v":1},{"r":7,"c":138,"v":1},{"r":7,"c":139,"v":1},{"r":7,"c":140,"v":1},{"r":7,"c":141,"v":1},{"r":7,"c":142,"v":1},{"r":7,"c":143,"v":1},{"r":7,"c":144,"v":1},{"r":7,"c":145,"v":1},{"r":7,"c":146,"v":1},{"r":7,"c":147,"v":1},{"r":7,"c":148,"v":1},{"r":7,"c":149,"v":1},{"r":7,"c":150,"v":1},{"r":7,"c":151,"v":1},{"r":7,"c":152,"v":1},{"r":7,"c":153,"v":1},{"r":7,"c":154,"v":1},{"r":7,"c":155,"v":1},{"r":7,"c":156,"v":1},{"r":7,"c":157,"v":1},{"r":7,"c":158,"v":1},{"r":7,"c":159,"v":1}
]},"layer":[{"mark":{"type":"rect","strokeWidth":1.2,"opacity":1},"encoding":{"x":{"field":"c","type":"ordinal","scale":{"paddingInner":0,"paddingOuter":0,"round":false},"axis":{"orient":"bottom","zindex":1,"domainWidth":5,"tickWidth":2,"labelPadding":23,"values":[0,20,40,60,80,100,120,140]}},"y":{"field":"r","type":"ordinal","scale":{"paddingInner":0,"paddingOuter":0,"round":false},"axis":{"orient":"left","zindex":1,"domainWidth":5,"tickWidth":2,"labelPadding":28}},"color":{"field":"v","type":"quantitative","scale":{"domain":[0,1],"range":["#ffff66","#007f66"],"interpolate":"rgb"},"legend":null},"stroke":{"field":"v","type":"quantitative","scale":{"domain":[0,1],"range":["#ffff66","#007f66"],"interpolate":"rgb"},"legend":null}}},{"mark":{"type":"rect","opacity":0},"encoding":{"x":{"field":"c","type":"ordinal","axis":{"orient":"top","zindex":1,"domainWidth":5,"tickWidth":2,"labels":false,"values":[0,20,40,60,80,100,120,140]}},"y":{"field":"r","type":"ordinal","axis":{"orient":"right","zindex":1,"domainWidth":5,"tickWidth":2,"labels":false}}}}],"resolve":{"axis":{"x":"independent","y":"independent"}}}
